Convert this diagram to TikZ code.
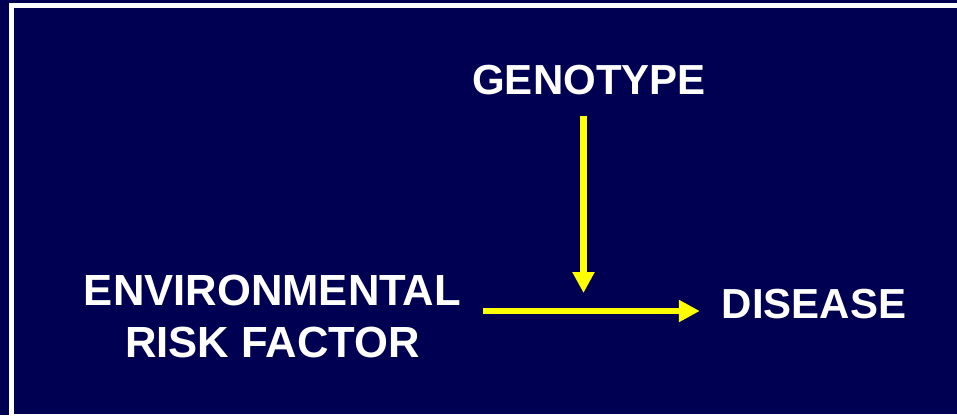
\documentclass[tikz,border=0pt]{standalone}
\usepackage{fontspec}
\setmainfont{Liberation Sans}
\usetikzlibrary{positioning, calc, arrows.meta}
\definecolor{slidebg}{RGB}{0,0,82}
\definecolor{arrowyellow}{RGB}{255,255,0}

\begin{document}
\begin{tikzpicture}[x=0.75pt,y=-0.75pt,
        lbl/.style={text=white, font=\fontsize{31.5}{39}\selectfont\bfseries, inner sep=0pt, outer sep=16.5pt},
        yarrow/.style={draw=arrowyellow, line width=4.9pt, -{Triangle[width=15.75pt,length=15.75pt]}}]
        \clip (0,0) rectangle (957,415);
        \fill[slidebg] (0,0) rectangle (957,415);
        \draw[white, line width=3.75pt] (11.5,5.5) rectangle (990,416.5);
        \node[lbl, anchor=base] (geno) at (589,94) {GENOTYPE};
        \node[lbl, align=center, font=\fontsize{32.7}{39}\selectfont\bfseries] (env) at (272.5,316) {ENVIRONMENTAL\\RISK FACTOR};
        \node[lbl, anchor=base] (disease) at (814,318) {DISEASE};
        \coordinate (meet) at (583.5,311);
        \coordinate (tip) at (583.5,293);
        \draw[yarrow] (env.east |- meet) -- (disease.west |- meet);
        \draw[yarrow] (geno.south -| tip) -- (tip);
    \end{tikzpicture}
\end{document}
